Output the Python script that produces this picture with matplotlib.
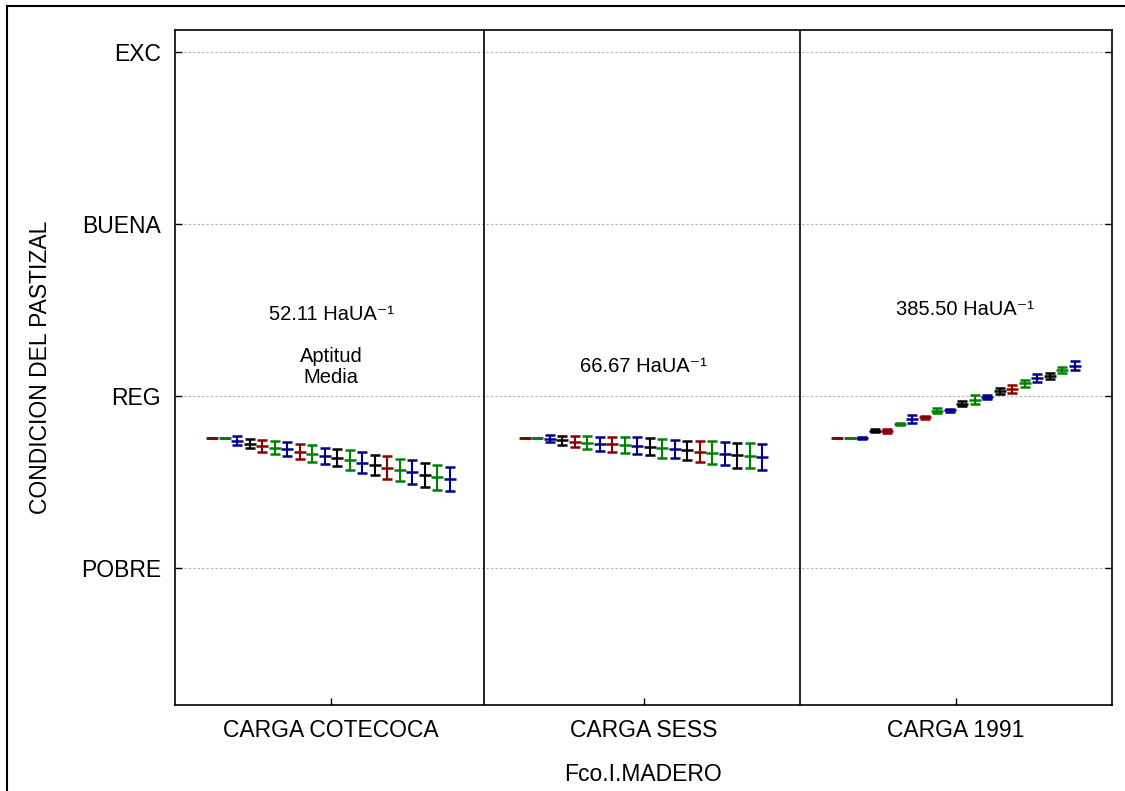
import numpy as np
import matplotlib
matplotlib.use("Agg")
import matplotlib.pyplot as plt
from matplotlib.lines import Line2D

plt.rcParams['font.family'] = ['Liberation Sans', 'DejaVu Sans']

# categorias (paneles) y escala de condicion
panels = ['CARGA COTECOCA', 'CARGA SESS', 'CARGA 1991']
cond_labels = ['POBRE', 'REG', 'BUENA', 'EXC']
cond_values = [1, 2, 3, 4]

# medias y errores por panel (20 anios simulados)
mean_cotecoca = [1.758, 1.758, 1.739, 1.723, 1.710, 1.700, 1.691, 1.677, 1.665, 1.652,
                 1.642, 1.627, 1.613, 1.598, 1.584, 1.569, 1.559, 1.540, 1.526, 1.517]
err_cotecoca = [0.0, 0.0, 0.027, 0.027, 0.035, 0.037, 0.041, 0.041, 0.050, 0.048,
                0.048, 0.056, 0.060, 0.060, 0.066, 0.066, 0.070, 0.068, 0.070, 0.070]

mean_sess = [1.758, 1.758, 1.752, 1.743, 1.735, 1.729, 1.723, 1.720, 1.714, 1.710,
             1.704, 1.696, 1.691, 1.685, 1.677, 1.671, 1.665, 1.656, 1.652, 1.646]
err_sess = [0.0, 0.0, 0.019, 0.027, 0.031, 0.039, 0.041, 0.044, 0.046, 0.050,
            0.050, 0.054, 0.054, 0.056, 0.062, 0.066, 0.068, 0.072, 0.072, 0.077]

mean_1991 = [1.758, 1.758, 1.758, 1.797, 1.797, 1.837, 1.868, 1.876, 1.915, 1.917,
             1.954, 1.979, 1.994, 2.029, 2.041, 2.074, 2.103, 2.114, 2.151, 2.176]
err_1991 = [0.0, 0.0, 0.006, 0.008, 0.010, 0.008, 0.023, 0.008, 0.015, 0.010,
            0.014, 0.025, 0.012, 0.019, 0.021, 0.019, 0.023, 0.017, 0.019, 0.027]

point_colors = ['#8b0000', '#008000', '#00008b', '#000000', '#8b0000', '#008000', '#00008b',
                '#8b0000', '#008000', '#00008b', '#000000', '#008000', '#00008b', '#000000',
                '#8b0000', '#008000', '#00008b', '#000000', '#008000', '#00008b']

annot = [['52.11 HaUA⁻¹', 'Aptitud\nMedia'], ['66.67 HaUA⁻¹'], ['385.50 HaUA⁻¹']]

fig = plt.figure(figsize=(11.25, 7.91), dpi=100)
ax = fig.add_axes([175 / 1125, 1 - 705 / 791, (1112 - 175) / 1125, (705 - 30) / 791])

series = [(mean_cotecoca, err_cotecoca), (mean_sess, err_sess), (mean_1991, err_1991)]
for p, (m, e) in enumerate(series):
    xs = p + np.linspace(0.12, 0.88, len(m))
    for i in range(len(m)):
        ax.errorbar(xs[i], m[i], yerr=e[i], fmt='_', color=point_colors[i],
                    ms=9, mew=1.8, capsize=3.5, capthick=1.5, elinewidth=1.5)

# separadores entre paneles
for xv in [0.99, 2.0]:
    ax.axvline(xv, color='black', lw=1.2)

ax.set_xlim(0, 3)
ax.set_ylim(0.203, 4.128)
ax.set_xticks([0.5, 1.5, 2.5])
ax.set_xticklabels(panels, fontsize=16.5)
ax.set_yticks(cond_values)
ax.set_yticklabels(cond_labels, fontsize=16.5)
ax.tick_params(direction='in', length=5, width=1, pad=10)
ax.tick_params(axis='y', right=True)
ax.grid(axis='y', color='#b0b0b0', ls=(0, (2, 2)), lw=0.8)
ax.set_axisbelow(True)
for s in ax.spines.values():
    s.set_linewidth(1.2)

ax.set_ylabel('CONDICION DEL PASTIZAL', fontsize=16.5, labelpad=21)
ax.set_xlabel('Fco.I.MADERO', fontsize=16.5, labelpad=15)

ax.text(0.5, 2.476, annot[0][0], ha='center', va='center', fontsize=14.5)
ax.text(0.5, 2.168, annot[0][1], ha='center', va='center', fontsize=14.5, linespacing=1.1)
ax.text(1.5, 2.174, annot[1][0], ha='center', va='center', fontsize=14.5)
ax.text(2.53, 2.505, annot[2][0], ha='center', va='center', fontsize=14.5)

# marco exterior (solo borde izquierdo y superior visibles)
fig.add_artist(Line2D([7 / 1125, 7 / 1125], [0, 1 - 6 / 791], color='black', lw=1.5,
                      transform=fig.transFigure))
fig.add_artist(Line2D([7 / 1125, 1], [1 - 6 / 791, 1 - 6 / 791], color='black', lw=1.5,
                      transform=fig.transFigure))

fig.savefig('out.png', dpi=100)
